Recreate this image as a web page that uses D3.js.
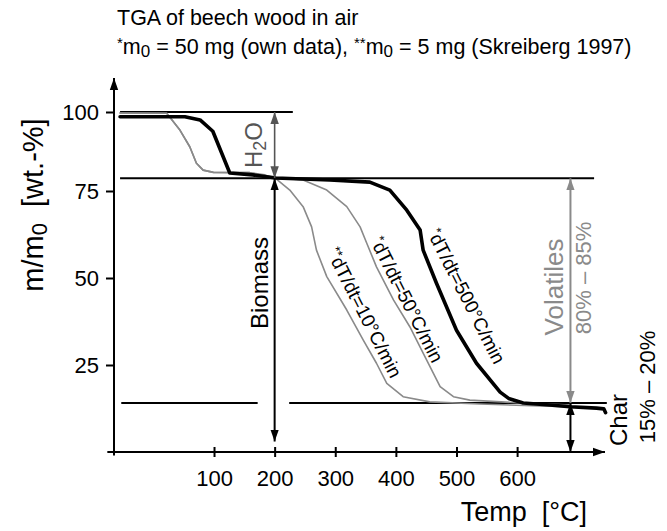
<!DOCTYPE html>
<html><head><meta charset="utf-8">
<script src="https://cdn.jsdelivr.net/npm/d3@7"></script>
<style>
body{margin:0;background:#fff}
svg{display:block}
text{font-family:"Liberation Sans",Arial,Helvetica,sans-serif}
</style>
</head><body>
<svg id="c" width="667" height="531"></svg>
<script>
// ---- data ----
const tempTicks = [100, 200, 300, 400, 500, 600];
const massTicks = [25, 50, 75, 100];

const temp500 = [-55, 52, 77, 98, 126, 164, 202, 291, 357, 390, 418, 440, 445, 467, 500, 533, 572, 586, 610, 654, 687, 731, 743, 746];
const mass500 = [98.5, 98.5, 97.5, 93.9, 80.7, 80.1, 79.1, 78.5, 77.8, 75.3, 69.5, 63.8, 58, 48.5, 35, 25.5, 17.2, 15.4, 14.1, 13.5, 13, 12.6, 12.4, 11.3];

const temp50 = [-55, 22, 44, 60, 71, 82, 99, 159, 206, 247, 286, 319, 341, 352, 368, 396, 423, 445, 459, 473, 495, 522, 605, 689];
const mass50 = [99.7, 99.6, 94.2, 89, 83.8, 81.6, 80.9, 80.8, 79.1, 78.5, 75.3, 70.5, 64.7, 60, 53.2, 43.7, 36, 28.4, 23.6, 18.8, 15.9, 14.9, 14.1, 13.5];

const temp10 = [-55, 22, 44, 60, 71, 82, 99, 159, 184, 202, 225, 247, 261, 269, 286, 319, 346, 368, 385, 412, 456, 539, 638, 689];
const mass10 = [99.7, 99.6, 94.2, 89, 83.8, 81.6, 80.9, 80.8, 80.1, 78.9, 75.3, 70.5, 64.7, 58, 50.4, 40.8, 32.2, 25.5, 19.7, 15.9, 14.4, 13.8, 13.2, 13.0];

const levelTop = 100, levelBiomass = 79, levelChar = 14.1;
const tArrowBio = 200, tArrowVol = 688;

// ---- scales ----
const svg = d3.select("#c");
const x = d3.scaleLinear().domain([-65, 745]).range([114, 605]);
const y = d3.scaleLinear().domain([0, 75, 100]).range([452, 191, 112]);

// markers
const defs = svg.append("defs");
function marker(id, color) {
  const m = defs.append("marker").attr("id", id).attr("viewBox", "0 0 10 10")
    .attr("refX", 10).attr("refY", 5).attr("markerWidth", 12).attr("markerHeight", 14)
    .attr("markerUnits", "userSpaceOnUse").attr("orient", "auto-start-reverse");
  m.append("path").attr("d", "M0,1.5 L10,5 L0,8.5 Z").attr("fill", color);
}
marker("ab", "#000"); marker("ag", "#8a8a8a"); marker("ad", "#555");

// ---- axes ----
const yAxis = d3.axisLeft(y).tickValues(massTicks).tickSize(8).tickPadding(7);
const gy = svg.append("g").attr("transform", `translate(${x(-65)},0)`).call(yAxis);
gy.select(".domain").remove();
gy.selectAll("line").attr("stroke", "#000").attr("stroke-width", 2);
gy.selectAll("text").attr("font-size", 22).attr("fill", "#000").attr("font-family", "Liberation Sans, Arial, sans-serif");

const xAxis = d3.axisBottom(x).tickValues(tempTicks).tickSize(10).tickPadding(8);
const gx = svg.append("g").attr("transform", `translate(0,${y(0)})`).call(xAxis);
gx.select(".domain").remove();
gx.selectAll("line").attr("y1", -5).attr("y2", 5).attr("stroke", "#000").attr("stroke-width", 2);
gx.selectAll("text").attr("font-size", 22).attr("fill", "#000").attr("font-family", "Liberation Sans, Arial, sans-serif");

// axis lines with arrows
svg.append("line").attr("x1", x(-65)).attr("x2", x(-65)).attr("y1", y(-1)).attr("y2", 78)
  .attr("stroke", "#000").attr("stroke-width", 2).attr("marker-end", "url(#ab)");
svg.append("line").attr("x1", x(-76)).attr("x2", x(745)).attr("y1", y(0)).attr("y2", y(0))
  .attr("stroke", "#000").attr("stroke-width", 2).attr("marker-end", "url(#ab)");

// ---- reference lines ----
function hline(t1, t2, v, w) {
  svg.append("line").attr("x1", x(t1)).attr("x2", x(t2)).attr("y1", y(v)).attr("y2", y(v))
    .attr("stroke", "#000").attr("stroke-width", w);
}
hline(-55, 230, levelTop, 2);
hline(-55, 727, levelBiomass, 2);
hline(-53, 172, levelChar, 2);
hline(224, 748, levelChar, 2);

// ---- curves ----
const line = d3.line().x(d => x(d[0])).y(d => y(d[1]));
function curve(ts, ms, color, w) {
  svg.append("path").datum(ts.map((t, i) => [t, ms[i]])).attr("d", line)
    .attr("fill", "none").attr("stroke", color).attr("stroke-width", w)
    .attr("stroke-linejoin", "round").attr("stroke-linecap", "round");
}
curve(temp10, mass10, "#8a8a8a", 1.6);
curve(temp50, mass50, "#8a8a8a", 1.6);
curve(temp500, mass500, "#000", 3.6);

// ---- arrows ----
function varrow(t, v1, v2, color, mk, w) {
  svg.append("line").attr("x1", x(t)).attr("x2", x(t)).attr("y1", y(v1)).attr("y2", y(v2))
    .attr("stroke", color).attr("stroke-width", w)
    .attr("marker-start", `url(#${mk})`).attr("marker-end", `url(#${mk})`);
}
varrow(tArrowBio, levelTop, levelBiomass, "#555", "ad", 1.6);
varrow(tArrowBio, levelBiomass, 3, "#000", "ab", 2);
varrow(tArrowVol, levelBiomass, levelChar, "#8a8a8a", "ag", 2);
varrow(tArrowVol, levelChar, 0, "#000", "ab", 2);

// ---- text ----
function rtext(px, py, angle, size, color, anchor) {
  return svg.append("text").attr("transform", `translate(${px},${py}) rotate(${angle})`)
    .attr("font-size", size).attr("fill", color).attr("text-anchor", anchor || "middle");
}
function sub(el, txt, size, shift) {
  el.append("tspan").attr("dy", shift).attr("font-size", size).text(txt);
}
// title
svg.append("text").attr("x", 117).attr("y", 25).attr("font-size", 21.5).text("TGA of beech wood in air");
const st = svg.append("text").attr("x", 117).attr("y", 54).attr("font-size", 21.5);
sub(st, "*", 15, -6);
sub(st, "m", 21.5, 6);
sub(st, "0", 17, 3);
sub(st, " = 50 mg (own data), ", 21.5, -3);
sub(st, "**", 15, -6);
sub(st, "m", 21.5, 6);
sub(st, "0", 17, 3);
sub(st, " = 5 mg (Skreiberg 1997)", 21.5, -3);

// y label
const yl = rtext(43, 205, -90, 29, "#000");
sub(yl, "m/m", 29, 0);
sub(yl, "0", 22, 4);
yl.append("tspan").attr("dy", -4).attr("style", "white-space:pre").text("  [wt.-%]");

// x label
svg.append("text").attr("x", 587).attr("y", 521).attr("font-size", 27).attr("text-anchor", "end")
  .attr("style", "white-space:pre").text("Temp  [°C]");

// H2O
const h = rtext(262, 145, -90, 24, "#555");
sub(h, "H", 24, 0);
sub(h, "2", 18, 4);
sub(h, "O", 24, -4);

rtext(268, 283, -90, 24, "#000").text("Biomass");
rtext(563, 287, -90, 26, "#8a8a8a").text("Volatiles");
rtext(591, 278, -90, 22, "#8a8a8a").text("80% – 85%");
rtext(627, 420, -90, 24, "#000").text("Char");
rtext(655, 387, -90, 22, "#000").text("15% – 20%");

// curve labels
function clabel(t, v, stars, txt) {
  const el = svg.append("text").attr("transform", `translate(${x(t)},${y(v)}) rotate(63)`)
    .attr("font-size", 19).attr("text-anchor", "middle").attr("fill", "#000");
  el.append("tspan").attr("dy", "0.05em").attr("font-size", 13).text(stars);
  el.append("tspan").attr("dy", "0.3em").text(txt);
}
clabel(516, 44.7, "*", "dT/dt=500°C/min");
clabel(418, 43.7, "*", "dT/dt=50°C/min");
clabel(347.5, 40, "**", "dT/dt=10°C/min");
</script>
</body></html>
